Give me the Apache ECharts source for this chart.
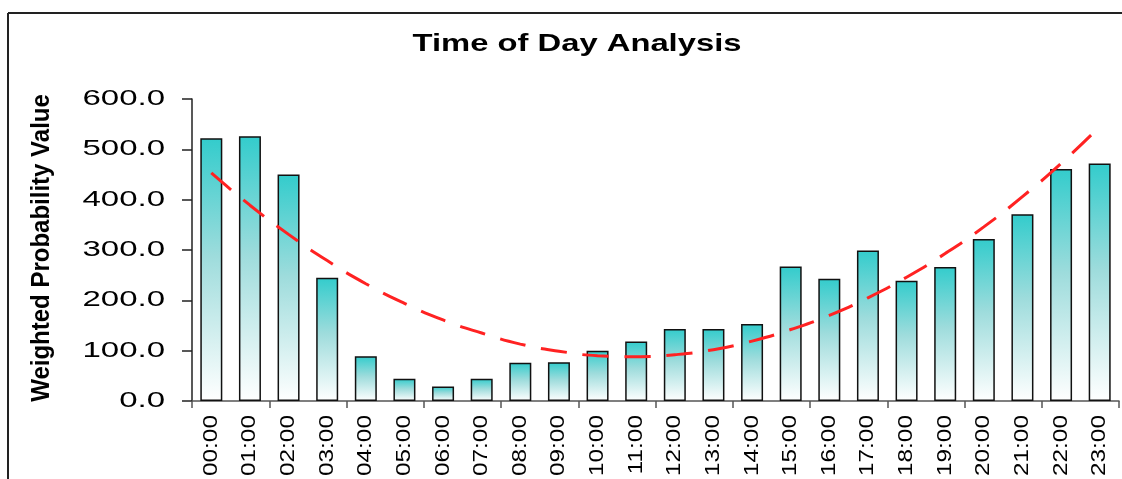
<!DOCTYPE html>
<html>
<head>
<meta charset="utf-8">
<script src="https://cdn.jsdelivr.net/npm/echarts@6/dist/echarts.min.js"></script>
<style>
html,body{margin:0;padding:0;background:#fff;}
#c{width:1122px;height:479px;}
</style>
</head>
<body>
<div id="c"></div>
<script>
const titleText = 'Time of Day Analysis';
const yAxisTitle = 'Weighted Probability Value';
const hours = ['00:00','01:00','02:00','03:00','04:00','05:00','06:00','07:00','08:00','09:00','10:00','11:00','12:00','13:00','14:00','15:00','16:00','17:00','18:00','19:00','20:00','21:00','22:00','23:00'];
const values = [522,526,450,245,89,44,29,44,76,77,100,118,143,143,153,267,243,299,239,266,322,371,461,472];
const trend = [453,389,331,279,233,194,161,135,113,99,90,88,92,102,119,142,170,205,246,293,346,406,472,545];
const yTickValues = [0,100,200,300,400,500,600];
const yTickLabels = ['0.0','100.0','200.0','300.0','400.0','500.0','600.0'];

const chart = echarts.init(document.getElementById('c'), null, {renderer:'canvas'});
const option = {
  animation: false,
  backgroundColor: '#ffffff',
  grid: {left: 192, right: 3, top: 99, bottom: 78, containLabel: false},
  xAxis: {
    type: 'category',
    data: hours,
    boundaryGap: true,
    axisLine: {show: true, lineStyle: {color: '#555', width: 1.5}},
    axisTick: {show: true, length: 7, alignWithLabel: false, lineStyle: {color: '#555', width: 1.5}},
    axisLabel: {show: false},
    splitLine: {show: false}
  },
  yAxis: {
    type: 'value',
    min: 0, max: 600, interval: 100,
    axisLine: {show: true, lineStyle: {color: '#222', width: 1.5}},
    axisTick: {show: true, length: 10, lineStyle: {color: '#222', width: 1.5}},
    axisLabel: {show: false},
    splitLine: {show: false}
  },
  series: [
    {
      type: 'bar',
      data: values,
      barWidth: 22,
      itemStyle: {
        borderColor: '#111',
        borderWidth: 1.5,
        color: new echarts.graphic.LinearGradient(0, 0, 0, 1, [
          {offset: 0, color: '#33CCCC'},
          {offset: 0.45, color: '#9EDCDC'},
          {offset: 1, color: '#FFFFFF'}
        ])
      },
      z: 2
    },
    {
      type: 'line',
      data: trend,
      smooth: true,
      symbol: 'none',
      lineStyle: {color: '#FF2222', width: 3, type: [26, 16]},
      z: 3
    }
  ]
};
chart.setOption(option);

const g = [];
g.push({type:'text', x: 577, y: 44, scaleX: 1.365, scaleY: 1,
  style: {text: titleText, fontFamily: 'Liberation Sans, Arial', fontWeight: 'bold', fontSize: 24, fill: '#000', textAlign: 'center', textVerticalAlign: 'middle'}});
g.push({type:'text', x: 42, y: 248, rotation: Math.PI/2, scaleX: 1.0, scaleY: 1.1,
  style: {text: yAxisTitle, fontFamily: 'Liberation Sans, Arial', fontWeight: 'bold', fontSize: 24, fill: '#000', textAlign: 'center', textVerticalAlign: 'middle'}});
yTickValues.forEach(function(v, i){
  const py = chart.convertToPixel({yAxisIndex: 0}, v);
  g.push({type:'text', x: 165, y: py, scaleX: 1.5, scaleY: 1,
    style: {text: yTickLabels[i], fontFamily: 'Liberation Sans, Arial', fontSize: 22, fill: '#000', textAlign: 'right', textVerticalAlign: 'middle'}});
});
hours.forEach(function(h, i){
  const px = chart.convertToPixel({xAxisIndex: 0}, i);
  g.push({type:'text', x: px, y: 415, rotation: Math.PI/2, scaleX: 1.22, scaleY: 1,
    style: {text: h, fontFamily: 'Liberation Sans, Arial', fontSize: 20, fill: '#000', textAlign: 'right', textVerticalAlign: 'middle'}});
});
g.push({type:'line', shape:{x1: 8, y1: 13, x2: 1122, y2: 13}, style:{stroke:'#222', lineWidth: 2}});
g.push({type:'line', shape:{x1: 8, y1: 13, x2: 8, y2: 479}, style:{stroke:'#222', lineWidth: 2}});
chart.setOption({graphic: g});
</script>
</body>
</html>
